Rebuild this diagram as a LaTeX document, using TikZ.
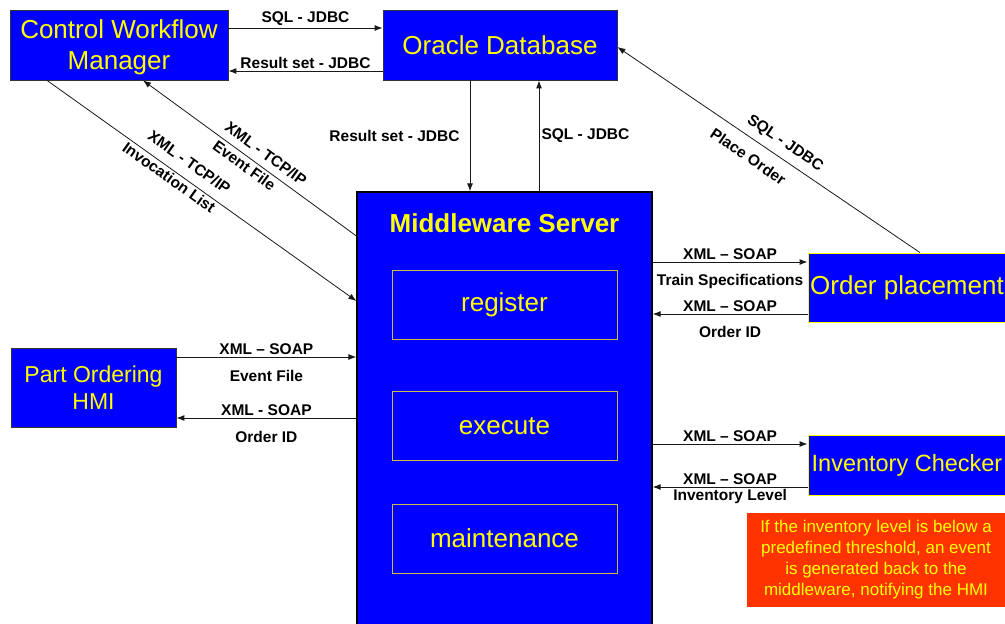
\documentclass[tikz,border=0pt]{standalone}
\usepackage{fontspec}
\setmainfont{Liberation Sans}
\usetikzlibrary{arrows.meta}

\definecolor{boxblue}{rgb}{0,0,1}
\definecolor{boxyellow}{rgb}{1,1,0}
\definecolor{notered}{rgb}{1,0.2,0}
\definecolor{linegray}{rgb}{0.1,0.1,0.1}
\definecolor{modedge}{rgb}{0.78,0.74,0.3}

\tikzset{
  sysbox/.style={draw=black!80, fill=boxblue, text=boxyellow, align=center, inner sep=0pt, line width=0.8pt, font=\fontsize{26}{31}\selectfont},
  modbox/.style={draw=modedge, fill=boxblue, text=boxyellow, inner sep=0pt, line width=0.8pt, minimum width=225pt, minimum height=69pt, font=\fontsize{26}{31}\selectfont},
  notebox/.style={fill=notered, text=boxyellow, align=center, inner sep=0pt, minimum width=258pt, minimum height=94pt, font=\fontsize{17}{21}\selectfont},
  conn/.style={draw=linegray, line width=1pt, -{Latex[length=8pt,width=6pt]}},
  lbl/.style={font=\bfseries\fontsize{15.5}{18}\selectfont, inner sep=2pt, text=black}
}

\begin{document}
\begin{tikzpicture}[x=1pt, y=-1pt]
  \clip (0,0) rectangle (1005,624);

  \node[sysbox, minimum width=218pt, minimum height=70pt, text depth=0pt] (cwm) at (119,45) {Control Workflow\\Manager};
  \node[sysbox, minimum width=234pt, minimum height=70pt] (oracle) at (500,45) {Oracle Database};
  \node[sysbox, minimum width=165pt, minimum height=79pt, font=\fontsize{23}{27}\selectfont] (hmi) at (93.5,387.5) {Part Ordering\\HMI};
  \node[sysbox, draw=black, line width=1.2pt, minimum width=295pt, minimum height=448pt] (mw) at (504.5,416) {};
  \node[font=\bfseries\fontsize{26}{31}\selectfont, text=boxyellow] (mwhead) at (504.5,223) {Middleware Server};
  \node[modbox] (register) at (504.5,305) {register};
  \node[modbox] (execute) at (504.5,426) {execute};
  \node[modbox] (maint) at (504.5,538.5) {maintenance};
  \node[sysbox, draw=boxyellow, minimum width=198pt, minimum height=69pt] (order) at (907,287.5) {Order placement};
  \node[sysbox, draw=boxyellow, minimum width=198pt, minimum height=60pt, font=\fontsize{23.5}{28}\selectfont] (inventory) at (907,465) {Inventory Checker};
  \node[notebox] (note) at (876,560) {If the inventory level is below a\\predefined threshold, an event\\is generated back to the\\middleware, notifying the HMI};

  \draw[conn] ([yshift=17pt]cwm.east) -- node[lbl, above] {SQL - JDBC} ([yshift=17pt]oracle.west);
  \draw[conn] ([yshift=-26pt]oracle.west) -- node[lbl, above] {Result set - JDBC} ([yshift=-26pt]cwm.east);
  \draw[conn] ([xshift=-30pt]oracle.south) -- node[lbl, left=8pt] {Result set - JDBC} ([xshift=-34.5pt]mw.north);
  \draw[conn] ([xshift=34.5pt]mw.north) -- node[lbl, right=0pt] {SQL - JDBC} ([xshift=39pt]oracle.south);

  \draw[conn, line width=0.8pt] ([yshift=180pt]mw.west) -- node[lbl, sloped, pos=0.46, above=5pt] {XML - TCP/IP} node[lbl, sloped, pos=0.5, below=1pt] {Event File} ([xshift=24pt]cwm.south);
  \draw[conn, line width=0.8pt] ([xshift=-72pt]cwm.south) -- node[lbl, sloped, pos=0.43, above=8pt] {XML - TCP/IP} node[lbl, sloped, pos=0.41, below=0pt] {Invocation List} ([yshift=115pt]mw.west);
  \draw[conn, line width=0.8pt] ([xshift=13pt]order.north) -- node[lbl, sloped, pos=0.473, above=5pt] {SQL - JDBC} node[lbl, sloped, pos=0.536, below=9pt] {Place Order} ([yshift=-2pt]oracle.east);

  \draw[conn] ([yshift=154pt]mw.east) -- node[lbl, above] {XML – SOAP} node[lbl, below=10pt] {Train Specifications} ([yshift=25.5pt]order.west);
  \draw[conn] ([yshift=-26.5pt]order.west) -- node[lbl, above] {XML – SOAP} node[lbl, below=10pt] {Order ID} ([yshift=102pt]mw.east);
  \draw[conn] ([yshift=30.5pt]hmi.east) -- node[lbl, above] {XML – SOAP} node[lbl, below=11pt] {Event File} ([yshift=59pt]mw.west);
  \draw[conn] ([yshift=-2pt]mw.west) -- node[lbl, above] {XML - SOAP} node[lbl, below=11pt] {Order ID} ([yshift=-30.5pt]hmi.east);
  \draw[conn] ([yshift=-28pt]mw.east) -- node[lbl, above] {XML – SOAP} ([yshift=21pt]inventory.west);
  \draw[conn] ([yshift=-22pt]inventory.west) -- node[lbl, above] {XML – SOAP} node[lbl, below=0pt] {Inventory Level} ([yshift=-71pt]mw.east);
\end{tikzpicture}
\end{document}
